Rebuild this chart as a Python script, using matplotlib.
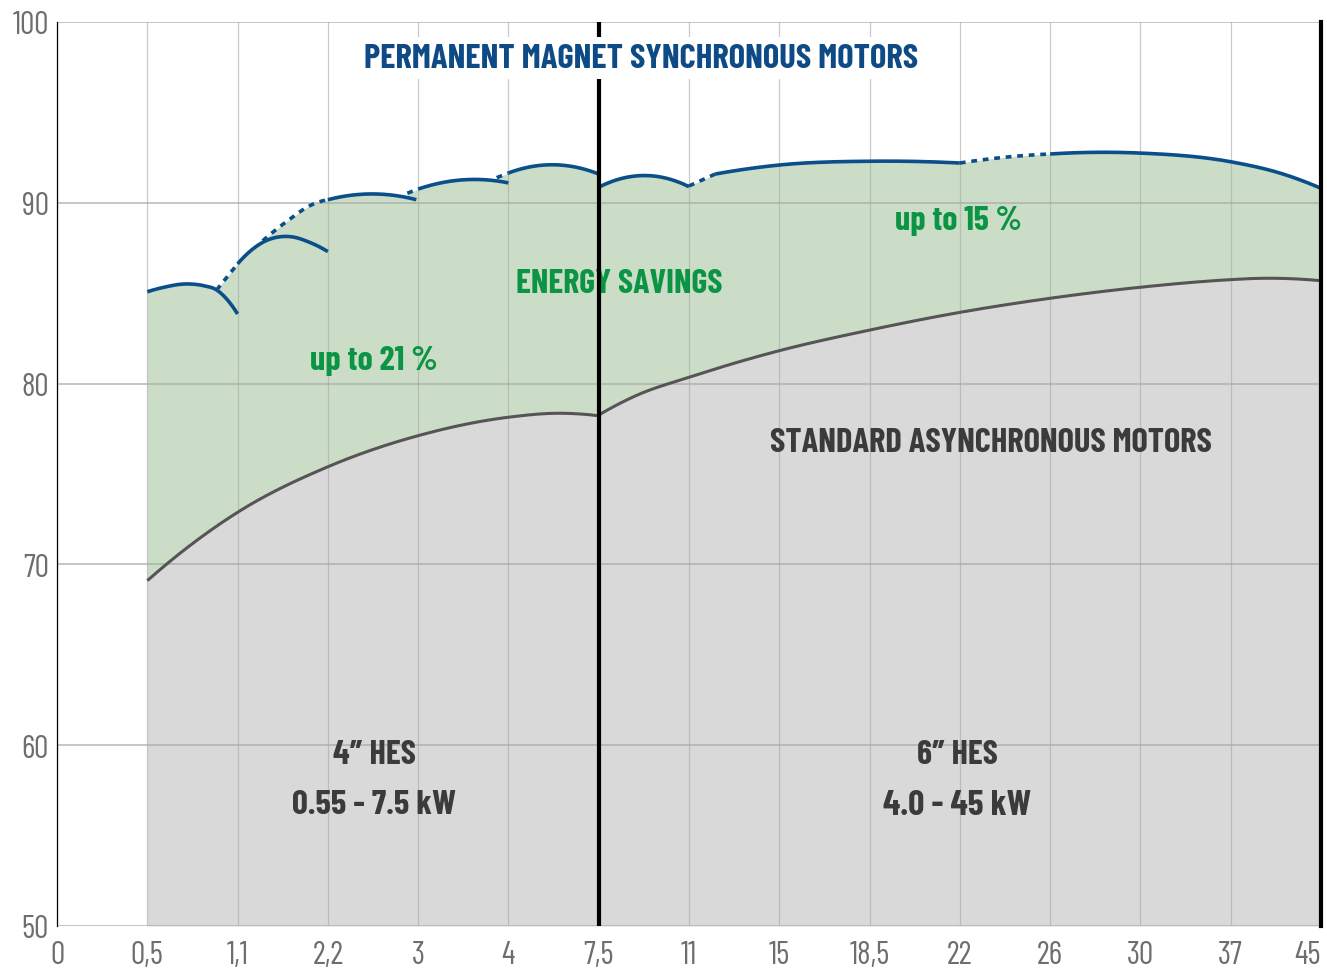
import numpy as np
import matplotlib
matplotlib.use("Agg")
import matplotlib.pyplot as plt
from matplotlib.transforms import ScaledTranslation

# ---------------- data ----------------
x_labels = ['0', '0,5', '1,1', '2,2', '3', '4', '7,5', '11', '15', '18,5',
            '22', '26', '30', '37', '45']
y_ticks = [50, 60, 70, 80, 90, 100]

# standard asynchronous motors (4" range and 6" range)
std4_pos = [1.0, 2.0, 3.0, 4.0, 5.0, 5.57, 6.0]
std4_val = [69.10, 72.88, 75.40, 77.12, 78.14, 78.36, 78.22]
std6_pos = [6.0, 6.42, 7.0, 8.0, 9.0, 10.0, 11.0, 12.0, 13.0, 13.3, 14.0]
std6_val = [78.26, 79.35, 80.35, 81.82, 82.96, 83.94, 84.72, 85.33, 85.75, 85.82, 85.69]

# permanent magnet synchronous motors: one arc per motor frame
pm_arcs_pos = [
    [1.0, 1.177, 1.417, 1.62, 1.768, 1.879, 2.0],
    [2.0, 2.278, 2.58, 2.80, 3.0],
    [3.0, 3.50, 3.98],
    [4.0, 4.72, 5.0],
    [5.0, 5.57, 6.0],
    [6.0, 6.45, 7.0],
    [7.29, 8.0, 9.0, 10.0],
    [11.0, 11.47, 12.0, 13.0, 13.58, 14.0],
]
pm_arcs_val = [
    [85.08, 85.32, 85.51, 85.42, 85.18, 84.68, 83.85],
    [86.62, 87.81, 88.13, 87.81, 87.30],
    [90.17, 90.49, 90.17],
    [90.76, 91.28, 91.10],
    [91.65, 92.09, 91.59],
    [90.86, 91.50, 90.89],
    [91.59, 92.09, 92.30, 92.20],
    [92.70, 92.79, 92.75, 92.27, 91.59, 90.80],
]
# dotted links between arcs
pm_links_pos = [
    [1.768, 2.0],
    [2.278, 2.58, 2.80, 3.0],
    [3.88, 4.0],
    [4.87, 5.0],
    [7.0, 7.29],
    [10.0, 10.5, 11.0],
]
pm_links_val = [
    [85.18, 86.62],
    [87.90, 89.10, 89.84, 90.17],
    [90.53, 90.76],
    [91.39, 91.65],
    [90.93, 91.59],
    [92.20, 92.52, 92.70],
]


# ---------------- helpers ----------------
def curve(xs, ys, xq):
    """Smooth cubic Hermite curve through the read points (NaN outside)."""
    xs = np.asarray(xs, float)
    ys = np.asarray(ys, float)
    xq = np.asarray(xq, float)
    out = np.full(xq.shape, np.nan)
    inside = (xq >= xs[0] - 1e-9) & (xq <= xs[-1] + 1e-9)
    xi = xq[inside]
    if len(xs) == 2:
        out[inside] = np.interp(xi, xs, ys)
        return out
    m = np.gradient(ys, xs, edge_order=2)
    idx = np.clip(np.searchsorted(xs, xi, side='right') - 1, 0, len(xs) - 2)
    h = xs[idx + 1] - xs[idx]
    t = (xi - xs[idx]) / h
    h00 = 2 * t**3 - 3 * t**2 + 1
    h10 = t**3 - 2 * t**2 + t
    h01 = -2 * t**3 + 3 * t**2
    h11 = t**3 - t**2
    out[inside] = (h00 * ys[idx] + h10 * h * m[idx] +
                   h01 * ys[idx + 1] + h11 * h * m[idx + 1])
    return out


def fine(xs, n=150):
    return np.linspace(xs[0], xs[-1], n)


# ---------------- style ----------------
C_GREEN_FILL = '#cbddc6'
C_GRAY_FILL = '#d9d9d9'
C_BLUE = '#0b4f8a'
C_GRAYLINE = '#555555'
C_GREEN_TXT = '#0a9444'
C_TITLE = '#0d4a86'
C_DARK = '#3b3b3b'
C_TICK = '#6e6e6e'
FONTS = ['Barlow Condensed', 'Liberation Sans', 'DejaVu Sans']

plt.rcParams['font.family'] = FONTS

W, H = 1327, 979
fig = plt.figure(figsize=(W / 100, H / 100), dpi=100)
ax = fig.add_axes([57 / W, 1 - 927 / H, (1321 - 57) / W, (927 - 23) / H])
ax.set_xlim(0, 14)
ax.set_ylim(50, 100)

# ---------------- fills ----------------
grid_l = np.linspace(1.0, 6.0, 1200)
grid_r = np.linspace(6.0, 14.0, 1800)[1:]
grid = np.concatenate([grid_l, grid_r])
std_curve = np.concatenate([curve(std4_pos, std4_val, grid_l),
                            curve(std6_pos, std6_val, grid_r)])
pieces = []
for p, v in zip(pm_arcs_pos + pm_links_pos, pm_arcs_val + pm_links_val):
    cl = curve(p, v, grid)
    if p[-1] <= 6.0:
        cl[len(grid_l):] = np.nan
    elif p[0] >= 6.0:
        cl[:len(grid_l)] = np.nan
    pieces.append(cl)
envelope = np.nanmax(np.vstack(pieces), axis=0)

ax.fill_between(grid, 50, std_curve, color=C_GRAY_FILL, lw=0, zorder=1)
ax.fill_between(grid, std_curve, envelope, color=C_GREEN_FILL, lw=0, zorder=1)

# ---------------- grid ----------------
for i in range(len(x_labels)):
    ax.axvline(i, color='#a8a8a8', alpha=0.6, lw=0.9, zorder=2)
for yv in y_ticks:
    ax.axhline(yv, color='#a8a8a8', alpha=0.65, lw=1.4, zorder=2)

# ---------------- lines ----------------
for p, v in ((std4_pos, std4_val), (std6_pos, std6_val)):
    xf = fine(p, 300)
    ax.plot(xf, curve(p, v, xf), color=C_GRAYLINE, lw=2.2, zorder=3,
            solid_capstyle='butt')
for p, v in zip(pm_arcs_pos, pm_arcs_val):
    xf = fine(p, 200)
    ax.plot(xf, curve(p, v, xf), color=C_BLUE, lw=2.6, zorder=4,
            solid_capstyle='butt')
for p, v in zip(pm_links_pos, pm_links_val):
    xf = fine(p, 100)
    ax.plot(xf, curve(p, v, xf), color=C_BLUE, lw=2.6, zorder=4,
            linestyle=(0, (1.6, 1.6)), dash_capstyle='butt')

ax.axvline(6, color='black', lw=3.0, zorder=5)
ax.axvline(14, color='black', lw=3.0, zorder=5, clip_on=False)

# ---------------- axes ----------------
for s in ('top', 'right', 'bottom'):
    ax.spines[s].set_visible(False)
ax.spines['left'].set_color('black')
ax.spines['left'].set_linewidth(0.9)
ax.spines['left'].set_zorder(5)
ax.set_xticks(range(len(x_labels)))
ax.set_xticklabels(x_labels)
ax.set_yticks(y_ticks)
ax.set_yticklabels([str(t) for t in y_ticks])
ax.tick_params(axis='both', length=0, labelsize=23, labelcolor=C_TICK)
ax.tick_params(axis='x', pad=10)
ax.tick_params(axis='y', pad=6)
ax.get_xticklabels()[-1].set_horizontalalignment('right')

# ---------------- texts (fitted to reference widths) ----------------
renderer = fig.canvas.get_renderer()


def label(x, yc, s, color, target_w, max_size, z=6, **kw):
    t = ax.text(x, yc, s, color=color, fontsize=max_size, fontweight='bold',
                ha='center', va='baseline', zorder=z, **kw)
    w = t.get_window_extent(renderer=renderer).width
    size = min(max_size, max_size * target_w / w)
    t.set_fontsize(size)
    t.set_transform(ax.transData +
                    ScaledTranslation(0, -0.35 * size / 72, fig.dpi_scale_trans))
    return t


label(6.473, 98.175, 'PERMANENT MAGNET SYNCHRONOUS MOTORS', C_TITLE, 555, 30,
      z=7, bbox=dict(facecolor='white', edgecolor='none', pad=5))
label(6.229, 85.73, 'ENERGY SAVINGS', C_GREEN_TXT, 207, 30, z=4.5)
label(3.51, 81.47, 'up to 21 %', C_GREEN_TXT, 128, 30)
label(9.983, 89.21, 'up to 15 %', C_GREEN_TXT, 127, 30)
label(10.34, 76.94, 'STANDARD ASYNCHRONOUS MOTORS', C_DARK, 443, 30)
label(3.516, 59.68, '4\u2033 HES', C_DARK, 83, 32)
label(3.51, 56.91, '0.55 - 7.5 kW', C_DARK, 164, 32)
label(9.978, 59.68, '6\u2033 HES', C_DARK, 81, 32)
label(9.97, 56.91, '4.0 - 45 kW', C_DARK, 148, 32)

fig.savefig('out.png', dpi=100)
